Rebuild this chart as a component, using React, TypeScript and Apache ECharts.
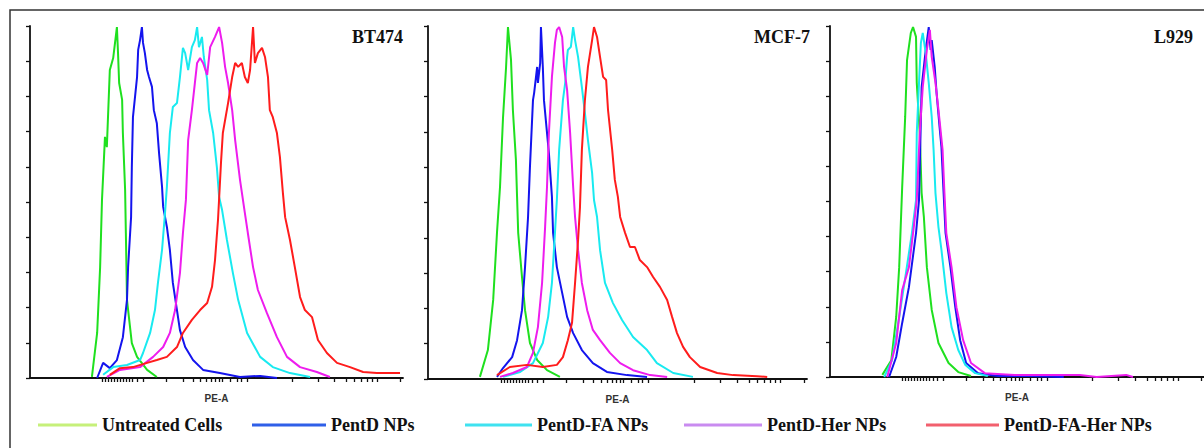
import React, { useEffect, useRef } from "react";
import * as echarts from "echarts";

// ---- Data (x: PE-A display scale 0–1000, y: % of max count) ----
const seriesNames = ["Untreated Cells", "PentD NPs", "PentD-FA NPs", "PentD-Her NPs", "PentD-FA-Her NPs"];
const panelTitles = ["BT474", "MCF-7", "L929"];
const xAxisName = "PE-A";

const bt474Untreated = [[166,0.3],[180,12.8],[188,31.5],[193,50.6],[201,68.5],[206,65.6],[214,87.5],[223,90.9],[233,99.7],[236,92.3],[239,83.8],[247,79],[249,69.6],[255,53.4],[257,41.2],[260,22.2],[273,9.9],[287,6],[314,2.3],[340,0.3]];
const bt474PentD = [[180,0],[196,4.3],[214,2.8],[233,5.1],[249,11.6],[260,22.2],[263,31.5],[271,45.7],[273,59.9],[276,74.1],[287,85.5],[290,93.2],[295,96],[300,99.7],[303,95.2],[308,92.3],[314,87.5],[319,85.5],[327,82.7],[332,76.1],[340,72.4],[346,63.9],[354,54.3],[357,48.6],[367,42.9],[375,36.4],[383,27],[394,19.3],[402,13.6],[416,8.8],[437,5.1],[464,2.3],[509,1.4],[563,0.3],[617,0.6],[662,0]];
const bt474PentDFA = [[196,0.9],[223,3.1],[260,3.7],[295,5.1],[303,7.1],[322,12.8],[335,19.3],[343,27],[354,36.4],[362,46.9],[367,54.3],[375,69.6],[383,77],[394,78.1],[402,85.5],[410,93.8],[416,92.3],[424,87.5],[434,94],[442,96],[448,99.7],[453,94],[461,96.9],[466,91.2],[475,84.7],[480,76.1],[491,69.6],[501,59.9],[507,51.4],[515,47.7],[528,39.2],[544,29.8],[558,22.2],[582,12.8],[617,6],[651,3.1],[697,1.4],[751,0.3]];
const bt474PentDHer = [[206,0.3],[241,2.3],[295,3.1],[330,6],[357,8.8],[375,12.8],[389,19.3],[402,29.8],[410,41.2],[418,50.6],[424,67.6],[434,76.1],[442,83.8],[448,89.5],[456,90.9],[464,89.5],[475,86.1],[483,94],[496,96.9],[507,99.7],[515,95.2],[523,88.4],[531,83.8],[542,76.1],[550,67.6],[563,56.3],[576,46.9],[584,41.2],[598,31.5],[611,25],[635,18.5],[662,11.6],[689,6],[724,3.1],[769,1.7],[804,0.3]];
const bt474PentDFAHer = [[214,0.9],[241,2.8],[276,3.1],[314,4.3],[340,5.1],[367,6],[394,8.8],[410,12.8],[434,16.5],[456,19.3],[475,21.3],[488,25.9],[496,33.5],[504,44.9],[512,61.1],[517,69.6],[531,78.1],[542,85.5],[550,89.5],[558,88.4],[568,89.5],[576,85.5],[584,83.8],[590,87.5],[598,99.7],[603,89.5],[611,92.3],[622,93.8],[630,91.2],[638,85.5],[643,76.1],[651,74.1],[662,69.6],[670,62.8],[678,52.6],[684,45.7],[697,39.2],[710,31.5],[724,23],[737,19.3],[756,17.3],[772,10.8],[796,7.1],[823,4.3],[858,3.1],[893,1.7],[930,1.4],[957,1.4],[992,1.4]];

const mcf7Untreated = [[137,0.6],[158,8.2],[172,22.4],[182,41.4],[190,54.4],[198,74.2],[206,88.4],[211,99.7],[219,90.4],[224,76.2],[232,62],[235,51.6],[238,41.4],[248,28.9],[256,19.5],[269,10.2],[288,5.4],[314,2.5],[348,0.6]];
const mcf7PentD = [[182,0.6],[198,3.1],[222,6.2],[235,11],[248,19.5],[256,31.7],[264,45.9],[269,60.1],[277,79],[280,81],[288,88.4],[290,83.9],[296,89.5],[298,99.7],[303,88.4],[306,79],[314,69.7],[319,64],[327,51.6],[330,41.4],[340,31.7],[354,24.4],[367,17.6],[383,13],[406,8.2],[435,4.5],[472,2],[525,1.1],[578,0.6]];
const mcf7PentDFA = [[198,0.6],[243,2],[277,4.5],[303,10.2],[317,17.6],[327,27.2],[335,41.4],[340,50.7],[346,64.9],[356,79],[362,83.9],[367,91.2],[369,93.2],[377,94.1],[383,99.7],[388,96],[396,91.2],[406,82.7],[414,75.4],[422,67.7],[433,58.4],[438,50.7],[446,45.9],[454,36.5],[467,27.2],[488,21.5],[512,16.7],[541,11.9],[578,8.2],[604,4.5],[647,1.7],[699,0.6]];
const mcf7PentDHer = [[190,0.6],[224,1.7],[261,3.4],[277,7.4],[290,14.7],[301,27.2],[309,43.1],[314,54.4],[319,69.7],[327,85.6],[335,95.2],[340,98.9],[346,99.7],[354,96.9],[359,88.4],[367,81.9],[375,69.7],[383,54.4],[388,45.9],[396,36.5],[406,27.2],[420,19.5],[435,13.9],[454,11],[480,7.4],[507,4.5],[541,2.5],[586,1.1],[631,0.6]];
const mcf7PentDFAHer = [[182,1.1],[216,3.4],[261,4],[303,3.4],[340,4],[356,6.2],[369,11],[380,15.9],[388,27.2],[396,39.4],[401,48.7],[406,64.9],[414,79],[422,88.4],[433,96],[438,99.7],[446,96.9],[454,91.2],[462,85.6],[470,84.7],[475,76.2],[486,64.9],[493,56.4],[501,51.6],[507,45.9],[520,41.4],[533,37.4],[546,37.4],[559,33.7],[578,31.7],[594,28.9],[612,26.1],[631,22.4],[644,17.6],[657,13],[673,9.1],[691,6.2],[718,3.4],[763,1.7],[805,1.1],[868,0.8],[895,0.6]];

const l929Untreated = [[140,0.6],[164,4.8],[177,17.1],[185,31.3],[190,45.6],[193,54.1],[201,74.1],[206,90.3],[216,98],[222,99.7],[230,96.9],[232,83.8],[240,69.5],[245,52.4],[251,45.6],[259,31.3],[272,19.1],[290,9.7],[317,4],[343,1.4],[377,0.3]];
const l929PentD = [[158,0],[177,5.7],[193,15.4],[211,25.6],[230,41],[238,50.4],[240,59.8],[245,82.6],[256,93.2],[264,99.7],[269,93.2],[272,96],[280,88.3],[285,80.9],[293,71.2],[298,65.5],[303,54.1],[309,41],[322,31.3],[335,19.9],[348,10.5],[364,4],[396,1.1],[449,0.3],[536,0.3],[625,0]];
const l929PentDFA = [[145,0],[166,4.8],[185,17.1],[203,29.6],[219,41],[230,50.4],[232,69.5],[238,83.8],[243,95.2],[248,98],[256,92.3],[264,83.8],[272,74.1],[277,64.7],[282,52.4],[290,42.7],[298,36.2],[311,23.9],[325,14.2],[343,7.7],[362,3.4],[388,1.1],[422,0.3]];
const l929PentDHer = [[153,0],[177,9.7],[193,24.8],[211,31.3],[224,42.7],[232,50.4],[240,69.5],[248,82.6],[259,93.2],[267,98.9],[272,91.2],[282,83.8],[290,76.1],[301,64.7],[306,52.4],[311,41],[325,31.3],[338,19.9],[356,10.5],[377,4],[414,1.1],[493,0.6],[625,0.6],[668,0.6],[713,0],[792,0.6],[810,0]];
const l929PentDFAHer: number[][] = [];

const panelData = [
  [bt474Untreated, bt474PentD, bt474PentDFA, bt474PentDHer, bt474PentDFAHer],
  [mcf7Untreated, mcf7PentD, mcf7PentDFA, mcf7PentDHer, mcf7PentDFAHer],
  [l929Untreated, l929PentD, l929PentDFA, l929PentDHer, l929PentDFAHer],
];

// biexponential-style tick positions on the display scale
const xTickValues = [193,201,209,217,225,233,241,249,257,265,275,287,303,365,410,437,456,472,485,496,507,515,536,555,566,582,702,772,815,847,869,887,903,917,930,992];

// ---- Styles ----
const curveColors = ["#1fe01f", "#1414ee", "#19eaf0", "#ee1cee", "#ff1c1c"];
const legendColors = ["#c6f07a", "#2f5fe8", "#3fe2f0", "#c98bf0", "#f2606e"];
const legendLayout = [[38, 59], [252, 74], [465, 67], [684, 78], [926, 73]];
const gridLayout = [
  { left: 30, top: 26, width: 373, height: 352 },
  { left: 428, top: 26, width: 379, height: 353 },
  { left: 830, top: 26, width: 379, height: 351 },
];
const titleRight = [801, 394, 11];
const serif = "'Liberation Serif', 'Times New Roman', serif";

export default function App() {
  const ref = useRef<HTMLDivElement>(null);
  useEffect(() => {
    if (!ref.current) return;
    const chart = echarts.init(ref.current, null, { renderer: "svg" });
    const axisLine = { lineStyle: { color: "#111", width: 1.8 } };
    const option: any = {
      animation: false,
      backgroundColor: "#fff",
      title: panelTitles.map((t, i) => ({
        text: t,
        right: titleRight[i],
        top: 28,
        padding: 0,
        textStyle: { fontFamily: serif, fontWeight: "bold", fontSize: 18, color: "#111" },
      })),
      legend: seriesNames.map((n, i) => ({
        data: [n],
        left: legendLayout[i][0],
        top: 416,
        padding: 0,
        icon: "rect",
        itemWidth: legendLayout[i][1],
        itemHeight: 3,
        itemStyle: { color: legendColors[i] },
        textStyle: { fontFamily: serif, fontWeight: "bold", fontSize: 18, color: "#111" },
        selectedMode: false,
      })),
      grid: gridLayout.map((g) => ({ ...g, containLabel: false })),
      xAxis: gridLayout.map((_, i) => ({
        type: "value",
        gridIndex: i,
        min: 0,
        max: 1000,
        axisLine: { ...axisLine, onZero: false },
        axisTick: { show: true, customValues: xTickValues, length: 4, lineStyle: { color: "#111", width: 1.3 } },
        axisLabel: { show: false },
        splitLine: { show: false },
        name: xAxisName,
        nameLocation: "middle",
        nameGap: 15,
        nameTextStyle: { fontFamily: "'Liberation Sans', Arial, sans-serif", fontSize: 10, fontWeight: "bold", color: "#333" },
      })),
      yAxis: gridLayout.map((_, i) => ({
        type: "value",
        gridIndex: i,
        min: 0,
        max: 100,
        interval: 10,
        axisLine: { show: true, ...axisLine },
        axisTick: { show: true, length: 4, lineStyle: { color: "#111", width: 1.3 } },
        axisLabel: { show: false },
        splitLine: { show: false },
      })),
      series: panelData.flatMap((curves, p) =>
        curves.map((d, s) => ({
          type: "line",
          name: seriesNames[s],
          xAxisIndex: p,
          yAxisIndex: p,
          data: d,
          symbol: "none",
          showSymbol: false,
          lineStyle: { color: curveColors[s], width: 2 },
          itemStyle: { color: curveColors[s] },
        }))
      ),
      graphic: [
        {
          type: "rect",
          silent: true,
          shape: { x: 10, y: 10, width: 1220, height: 470 },
          style: { fill: "none", stroke: "#333", lineWidth: 1.5 },
        },
      ],
    };
    chart.setOption(option);
    return () => chart.dispose();
  }, []);
  return (
    <div
      ref={ref}
      style={{ position: "fixed", left: 0, top: 0, width: 1204, height: 448, background: "#fff" }}
    />
  );
}
